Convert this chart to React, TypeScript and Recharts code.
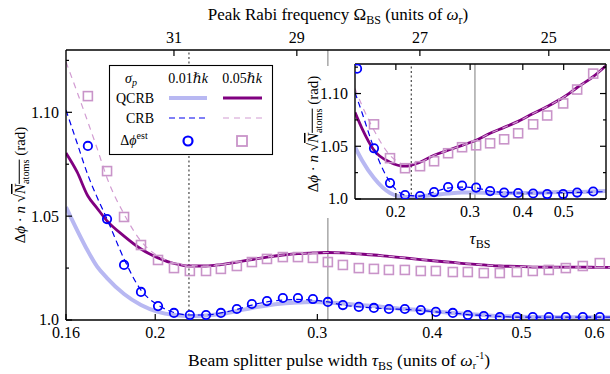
import React from 'react';
import { ComposedChart, Line, Scatter, XAxis, YAxis, ReferenceLine } from 'recharts';

const FONT = '"Liberation Serif", "Times New Roman", "DejaVu Serif", serif';

const COL_QCRB1 = '#b8b8f2';
const COL_QCRB5 = '#800080';
const COL_CRB1 = '#0000ee';
const COL_CRB5 = '#d29cd2';
const COL_EST1 = '#0000ff';
const COL_EST5 = '#c994c9';

// ---------------- main panel data ----------------
const mainXTicks = [0.16, 0.2, 0.3, 0.4, 0.5, 0.6];
const mainXTickLabels = ['0.16', '0.2', '0.3', '0.4', '0.5', '0.6'];
const mainYTicks = [1.0, 1.025, 1.05, 1.075, 1.1, 1.125];
const mainYTickLabels = ['1.0', '', '1.05', '', '1.10', ''];
const topTickTaus = [0.2096, 0.285, 0.3877, 0.5352];
const topTickLabels = ['31', '29', '27', '25'];
const markerTaus = [0.2176, 0.308];

const mainLineTau = [0.16, 0.1645, 0.169, 0.1729, 0.1773, 0.185, 0.193, 0.2014, 0.2096, 0.2181,
  0.2271, 0.2357, 0.2453, 0.2547, 0.2645, 0.2752, 0.2858, 0.2967, 0.308, 0.3198,
  0.3328, 0.3456, 0.3588, 0.3734, 0.3886, 0.4035, 0.421, 0.4371, 0.4549, 0.4735,
  0.4941, 0.5142, 0.5352, 0.5585, 0.5827, 0.608, 0.63];
const mainQcrb1 = [1.0544, 1.0433, 1.0332, 1.0258, 1.0202, 1.0125, 1.0072, 1.0039, 1.0024, 1.0019,
  1.0022, 1.0029, 1.0043, 1.0058, 1.007, 1.0079, 1.0084, 1.0087, 1.0084, 1.0079,
  1.0072, 1.0067, 1.006, 1.0053, 1.0048, 1.0041, 1.0034, 1.0029, 1.0024, 1.0019,
  1.0017, 1.0014, 1.0014, 1.0013, 1.0013, 1.0013, 1.0013];
const mainQcrb5 = [1.0804, 1.0713, 1.0597, 1.0539, 1.0477, 1.0404, 1.0342, 1.0299, 1.0272, 1.026,
  1.026, 1.0267, 1.0279, 1.0291, 1.0303, 1.0313, 1.032, 1.0323, 1.0325, 1.0323,
  1.0318, 1.0313, 1.0306, 1.0299, 1.0291, 1.0284, 1.0277, 1.027, 1.0265, 1.026,
  1.0258, 1.0255, 1.0255, 1.0255, 1.0255, 1.0253, 1.0253];
const mainCrb1 = [1.1011, 1.0852, 1.0698, 1.0592, 1.0486, 1.0294, 1.0144, 1.0072, 1.0036, 1.0024,
  1.0024, 1.0034, 1.0051, 1.0072, 1.0087, 1.0096, 1.0099, 1.0096, 1.0087, 1.0072,
  1.0063, 1.0058, 1.0053, 1.0051, 1.0046, 1.0039, 1.0034, 1.0026, 1.0022, 1.0017,
  1.0014, 1.0014, 1.0014, 1.0014, 1.0014, 1.0014, 1.0014];
const mainCrb5 = [1.1242, 1.1098, 1.0953, 1.0828, 1.0684, 1.051, 1.038, 1.0308, 1.0274, 1.0262,
  1.026, 1.0267, 1.0279, 1.0291, 1.0303, 1.0313, 1.032, 1.0323, 1.0325, 1.0323,
  1.0318, 1.0313, 1.0306, 1.0299, 1.0291, 1.0284, 1.0277, 1.027, 1.0265, 1.026,
  1.0258, 1.0255, 1.0255, 1.0255, 1.0255, 1.0253, 1.0253];

const mainEstTau = [0.169, 0.1773, 0.185, 0.193, 0.2014, 0.2096, 0.2181, 0.2271, 0.2357, 0.2453,
  0.2547, 0.2645, 0.2752, 0.2858, 0.2967, 0.308, 0.3198, 0.3328, 0.3456, 0.3588,
  0.3734, 0.3886, 0.4035, 0.421, 0.4371, 0.4549, 0.4735, 0.4941, 0.5142, 0.5352,
  0.5585, 0.5827, 0.608];
const mainEst1 = [1.0838, 1.0486, 1.0265, 1.0135, 1.0067, 1.0034, 1.0024, 1.0024, 1.0034, 1.0053,
  1.0077, 1.0091, 1.0106, 1.0106, 1.0101, 1.0087, 1.0072, 1.0063, 1.0058, 1.0053,
  1.0053, 1.0048, 1.0039, 1.0034, 1.0024, 1.0019, 1.0014, 1.0014, 1.0014, 1.0014,
  1.0014, 1.0014, 1.0014];
const mainEst5 = [1.1078, 1.0717, 1.0496, 1.0361, 1.0289, 1.025, 1.0236, 1.0236, 1.0246, 1.026,
  1.0279, 1.0294, 1.0303, 1.0303, 1.0299, 1.0279, 1.0265, 1.025, 1.0246, 1.0241,
  1.0241, 1.0236, 1.0236, 1.0231, 1.0231, 1.0226, 1.0226, 1.0231, 1.0236, 1.0241,
  1.025, 1.026, 1.0274];

// ---------------- inset data ----------------
const insetXTicks = [0.2, 0.3, 0.4, 0.5];
const insetXTickLabels = ['0.2', '0.3', '0.4', '0.5'];
const insetYTicks = [1.0, 1.025, 1.05, 1.075, 1.1, 1.125];
const insetYTickLabels = ['1.0', '', '1.05', '', '1.10', ''];

const insetLineTau = [0.16, 0.1662, 0.1775, 0.1937, 0.2103, 0.2282, 0.2464, 0.266, 0.2871, 0.31,
  0.3346, 0.3612, 0.3899, 0.4232, 0.4569, 0.4986, 0.5382, 0.5874, 0.63];
const insetQcrb1 = [1.0491, 1.0368, 1.0198, 1.0057, 1.0019, 1.0024, 1.0038, 1.0052, 1.0061, 1.0061,
  1.0057, 1.0057, 1.0057, 1.0057, 1.0061, 1.0066, 1.0066, 1.0071, 1.0075];
const insetQcrb5 = [1.0821, 1.067, 1.0462, 1.0349, 1.0311, 1.0349, 1.0415, 1.0462, 1.0509, 1.0557,
  1.0623, 1.0679, 1.0736, 1.0811, 1.0877, 1.0962, 1.1057, 1.116, 1.1264];
const insetCrb1 = [1.101, 1.082, 1.0481, 1.016, 1.0038, 1.0028, 1.0066, 1.0104, 1.0113, 1.0104,
  1.0075, 1.0061, 1.0057, 1.0057, 1.0057, 1.006, 1.0062, 1.0066, 1.007];
const insetCrb5 = [1.1047, 1.0887, 1.0651, 1.0415, 1.033, 1.0349, 1.0415, 1.0462, 1.0509, 1.0557,
  1.0623, 1.0679, 1.0736, 1.0811, 1.0877, 1.0962, 1.1057, 1.116, 1.1264];

const insetEst1Tau = [0.1618, 0.1775, 0.1937, 0.2103, 0.2282, 0.2464, 0.266, 0.2871, 0.31, 0.3346,
  0.3612, 0.3899, 0.4232, 0.4569, 0.4986, 0.5382, 0.5874];
const insetEst1 = [1.1236, 1.0481, 1.0151, 1.0038, 1.0028, 1.0066, 1.0113, 1.0127, 1.0108, 1.0075,
  1.0061, 1.0057, 1.0052, 1.0047, 1.0047, 1.0061, 1.0071];
const insetEst5Tau = [0.1775, 0.1937, 0.2103, 0.2282, 0.2464, 0.266, 0.2871, 0.31, 0.3346,
  0.3612, 0.3899, 0.4232, 0.4569, 0.4986, 0.5382, 0.5874];
const insetEst5 = [1.0708, 1.0387, 1.0292, 1.0311, 1.0358, 1.0434, 1.0491, 1.0509, 1.0528,
  1.0566, 1.0623, 1.0708, 1.0792, 1.0906, 1.1038, 1.1189];

const zip = (ts: number[], vs: number[]) => ts.map((t, i) => ({ t, v: vs[i] }));

type Side = 'left' | 'right' | 'top' | 'bottom';

function makeTick(side: Side, values: number[], labels: string[], showLabel: boolean) {
  return (p: any) => {
    const { x, y, payload } = p;
    const idx = values.findIndex((v) => Math.abs(v - payload.value) < 1e-9);
    const lab = idx >= 0 ? labels[idx] : '';
    const len = lab === '' ? 3 : 6;
    let line;
    let text = null;
    if (side === 'left') {
      line = <line x1={x} y1={y} x2={x + len} y2={y} stroke="#000" strokeWidth={1.2} />;
      if (showLabel && lab) text = <text x={x - 7} y={y} dy="0.34em" textAnchor="end" fontSize={16} fontFamily={FONT} fill="#000">{lab}</text>;
    } else if (side === 'right') {
      line = <line x1={x} y1={y} x2={x - len} y2={y} stroke="#000" strokeWidth={1.2} />;
    } else if (side === 'bottom') {
      line = <line x1={x} y1={y} x2={x} y2={y - len} stroke="#000" strokeWidth={1.2} />;
      if (showLabel && lab) text = <text x={x} y={y + 18} textAnchor="middle" fontSize={16} fontFamily={FONT} fill="#000">{lab}</text>;
    } else {
      line = <line x1={x} y1={y} x2={x} y2={y + len} stroke="#000" strokeWidth={1.2} />;
      if (showLabel && lab) text = <text x={x} y={y - 7} textAnchor="middle" fontSize={16} fontFamily={FONT} fill="#000">{lab}</text>;
    }
    return <g>{line}{text}</g>;
  };
}

const circleShape = (p: any) => <circle cx={p.cx} cy={p.cy} r={4.2} fill="none" stroke={COL_EST1} strokeWidth={1.8} />;
const squareShape = (p: any) => <rect x={p.cx - 4.5} y={p.cy - 4.5} width={9} height={9} fill="none" stroke={COL_EST5} strokeWidth={1.6} />;

const axisLine = { stroke: '#000', strokeWidth: 1.4 };

function PhaseLabel({ x, y, fs }: { x: number; y: number; fs: number }) {
  return (
    <text x={x} y={y} transform={`rotate(-90 ${x} ${y})`} textAnchor="middle" fontSize={fs} fontFamily={FONT} fill="#000">
      Δ<tspan fontStyle="italic">ϕ</tspan> · <tspan fontStyle="italic">n</tspan> √
      <tspan style={{ textDecoration: 'overline' }}>
        <tspan fontStyle="italic">N</tspan>
        <tspan fontSize={fs * 0.68} dy={fs * 0.25}>atoms</tspan>
      </tspan>
      <tspan dy={-fs * 0.25}>{'\u00A0'}(rad)</tspan>
    </text>
  );
}

export default function App() {
  const mainLines = {
    q1: zip(mainLineTau, mainQcrb1),
    q5: zip(mainLineTau, mainQcrb5),
    c1: zip(mainLineTau, mainCrb1),
    c5: zip(mainLineTau, mainCrb5),
    e1: zip(mainEstTau, mainEst1),
    e5: zip(mainEstTau, mainEst5),
  };
  const insetLines = {
    q1: zip(insetLineTau, insetQcrb1),
    q5: zip(insetLineTau, insetQcrb5),
    c1: zip(insetLineTau, insetCrb1),
    c5: zip(insetLineTau, insetCrb5),
    e1: zip(insetEst1Tau, insetEst1),
    e5: zip(insetEst5Tau, insetEst5),
  };

  const renderSeries = (d: any, xId: string, yId: string) => [
    <ReferenceLine key="r1" xAxisId={xId} yAxisId={yId} x={markerTaus[0]} stroke="#555" strokeWidth={1.3} strokeDasharray="2 2.5" />,
    <ReferenceLine key="r2" xAxisId={xId} yAxisId={yId} x={markerTaus[1]} stroke="#9a9a9a" strokeWidth={1.3} />,
    <Line key="q1" xAxisId={xId} yAxisId={yId} data={d.q1} dataKey="v" type="monotone" stroke={COL_QCRB1} strokeWidth={4} dot={false} activeDot={false} isAnimationActive={false} />,
    <Line key="q5" xAxisId={xId} yAxisId={yId} data={d.q5} dataKey="v" type="monotone" stroke={COL_QCRB5} strokeWidth={2.8} dot={false} activeDot={false} isAnimationActive={false} />,
    <Line key="c1" xAxisId={xId} yAxisId={yId} data={d.c1} dataKey="v" type="monotone" stroke={COL_CRB1} strokeWidth={1.2} strokeDasharray="6 4" dot={false} activeDot={false} isAnimationActive={false} />,
    <Line key="c5" xAxisId={xId} yAxisId={yId} data={d.c5} dataKey="v" type="monotone" stroke={COL_CRB5} strokeWidth={1.2} strokeDasharray="6 5" dot={false} activeDot={false} isAnimationActive={false} />,
    <Scatter key="e5" xAxisId={xId} yAxisId={yId} data={d.e5} dataKey="v" shape={squareShape} isAnimationActive={false} />,
    <Scatter key="e1" xAxisId={xId} yAxisId={yId} data={d.e1} dataKey="v" shape={circleShape} isAnimationActive={false} />,
  ];

  return (
    <div style={{ position: 'fixed', left: 0, top: 0, width: 610, height: 374, overflow: 'hidden', background: '#fff' }}>
      <div style={{ position: 'absolute', left: 0, top: 0 }}>
        <ComposedChart width={620} height={374} margin={{ top: 40, right: 6, bottom: 44, left: 56 }}>
          <XAxis xAxisId="b" dataKey="t" type="number" scale="log" domain={[0.16, 0.63]} allowDataOverflow
            ticks={mainXTicks} interval={0} height={10} tickLine={false} tickSize={0} tickMargin={0}
            axisLine={axisLine} tick={makeTick('bottom', mainXTicks, mainXTickLabels, true)} />
          <XAxis xAxisId="top" orientation="top" dataKey="t" type="number" scale="log" domain={[0.16, 0.63]} allowDataOverflow
            ticks={topTickTaus} interval={0} height={10} tickLine={false} tickSize={0} tickMargin={0}
            axisLine={axisLine} tick={makeTick('top', topTickTaus, topTickLabels, true)} />
          <YAxis yAxisId="l" dataKey="v" type="number" domain={[1, 1.13]} allowDataOverflow
            ticks={mainYTicks} interval={0} width={10} tickLine={false} tickSize={0} tickMargin={0}
            axisLine={axisLine} tick={makeTick('left', mainYTicks, mainYTickLabels, true)} />
          {renderSeries(mainLines, 'b', 'l')}
        </ComposedChart>
      </div>
      <div style={{ position: 'absolute', left: 290, top: 66, width: 320, height: 152, background: '#fff' }} />
      <div style={{ position: 'absolute', left: 0, top: 0 }}>
        <ComposedChart width={610} height={374} margin={{ top: 54, right: 0, bottom: 165, left: 345 }}>
          <XAxis xAxisId="b" dataKey="t" type="number" scale="log" domain={[0.16, 0.63]} allowDataOverflow
            ticks={insetXTicks} interval={0} height={10} tickLine={false} tickSize={0} tickMargin={0}
            axisLine={axisLine} tick={makeTick('bottom', insetXTicks, insetXTickLabels, true)} />
          <XAxis xAxisId="top" orientation="top" dataKey="t" type="number" scale="log" domain={[0.16, 0.63]} allowDataOverflow
            ticks={insetXTicks} interval={0} height={10} tickLine={false} tickSize={0} tickMargin={0}
            axisLine={axisLine} tick={makeTick('top', insetXTicks, insetXTickLabels, false)} />
          <YAxis yAxisId="l" dataKey="v" type="number" domain={[1, 1.128]} allowDataOverflow
            ticks={insetYTicks} interval={0} width={10} tickLine={false} tickSize={0} tickMargin={0}
            axisLine={axisLine} tick={makeTick('left', insetYTicks, insetYTickLabels, true)} />
          <YAxis yAxisId="r" orientation="right" dataKey="v" type="number" domain={[1, 1.128]} allowDataOverflow
            ticks={insetYTicks} interval={0} width={4} tickLine={false} tickSize={0} tickMargin={0}
            axisLine={axisLine} tick={makeTick('right', insetYTicks, insetYTickLabels, false)} />
          {renderSeries(insetLines, 'b', 'l')}
        </ComposedChart>
      </div>
      <svg width={610} height={374} style={{ position: 'absolute', left: 0, top: 0, pointerEvents: 'none' }}>
        <text x={338} y={20} textAnchor="middle" fontSize={17} fontFamily={FONT} fill="#000">
          Peak Rabi frequency Ω<tspan fontSize={12} dy={4}>BS</tspan>
          <tspan dy={-4}>{'\u00A0'}(units of </tspan><tspan fontStyle="italic">ω</tspan>
          <tspan fontSize={12} dy={4}>r</tspan><tspan dy={-4}>)</tspan>
        </text>
        <text x={339} y={366} textAnchor="middle" fontSize={17.5} fontFamily={FONT} fill="#000">
          Beam splitter pulse width <tspan fontStyle="italic">τ</tspan><tspan fontSize={12} dy={4}>BS</tspan>
          <tspan dy={-4}>{'\u00A0'}(units of </tspan><tspan fontStyle="italic">ω</tspan>
          <tspan fontSize={10} dy={3}>r</tspan><tspan fontSize={10} dy={-10}>-1</tspan>
          <tspan dy={7}>)</tspan>
        </text>
        <text x={480} y={244} textAnchor="middle" fontSize={17} fontFamily={FONT} fill="#000">
          <tspan fontStyle="italic">τ</tspan><tspan fontSize={12} dy={4}>BS</tspan>
        </text>
        <PhaseLabel x={25} y={185} fs={15} />
        <PhaseLabel x={318} y={134} fs={15} />
        {/* legend */}
        <g fontFamily={FONT} fill="#000">
          <rect x={109.5} y={65.5} width={163} height={89} fill="#fff" stroke="#000" strokeWidth={1.1} />
          <text x={131} y={83} textAnchor="middle" fontSize={14} fontStyle="italic">σ<tspan fontSize={10} dy={3}>p</tspan></text>
          <text x={188} y={83} textAnchor="middle" fontSize={14}>0.01<tspan fontStyle="italic">ℏk</tspan></text>
          <text x={242} y={83} textAnchor="middle" fontSize={14}>0.05<tspan fontStyle="italic">ℏk</tspan></text>
          <text x={135} y={103} textAnchor="middle" fontSize={14}>QCRB</text>
          <text x={140} y={123} textAnchor="middle" fontSize={14}>CRB</text>
          <text x={134} y={145} textAnchor="middle" fontSize={14}>Δ<tspan fontStyle="italic">ϕ</tspan><tspan fontSize={10} dy={-6}>est</tspan></text>
          <line x1={169} y1={98} x2={207} y2={98} stroke={COL_QCRB1} strokeWidth={4} />
          <line x1={223} y1={98} x2={262} y2={98} stroke={COL_QCRB5} strokeWidth={2.8} />
          <line x1={169} y1={118} x2={207} y2={118} stroke={COL_CRB1} strokeWidth={1.2} strokeDasharray="6 4" />
          <line x1={223} y1={118} x2={262} y2={118} stroke={COL_CRB5} strokeWidth={1.2} strokeDasharray="6 5" />
          <circle cx={188} cy={141} r={4.5} fill="none" stroke={COL_EST1} strokeWidth={2.2} />
          <rect x={237} y={136} width={10} height={10} fill="none" stroke={COL_EST5} strokeWidth={1.8} />
        </g>
      </svg>
    </div>
  );
}
